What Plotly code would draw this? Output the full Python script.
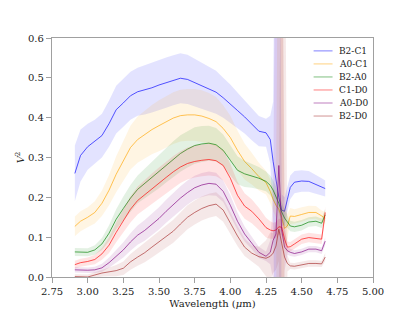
import plotly.graph_objects as go

wavelength = [2.91, 2.95, 3.00, 3.05, 3.10, 3.15, 3.20, 3.25, 3.30, 3.35, 3.40, 3.45, 3.50, 3.55,
              3.60, 3.65, 3.70, 3.75, 3.80, 3.85, 3.90, 3.95, 4.00, 4.05, 4.10, 4.15, 4.20, 4.25,
              4.28, 4.30, 4.32, 4.34, 4.36, 4.38, 4.40, 4.42, 4.45, 4.50, 4.55, 4.60, 4.64, 4.665]

v2_b2c1 = [0.260, 0.305, 0.327, 0.340, 0.355, 0.385, 0.420, 0.437, 0.455, 0.465, 0.470, 0.475, 0.482, 0.488,
           0.494, 0.499, 0.496, 0.488, 0.480, 0.472, 0.464, 0.450, 0.435, 0.418, 0.402, 0.383, 0.366, 0.362,
           0.345, 0.290, 0.240, 0.200, 0.168, 0.165, 0.195, 0.225, 0.238, 0.241, 0.240, 0.233, 0.226, 0.222]
err_b2c1 = [0.070, 0.065, 0.058, 0.055, 0.055, 0.058, 0.060, 0.060, 0.060, 0.060, 0.062, 0.062, 0.062, 0.063,
            0.063, 0.063, 0.062, 0.060, 0.058, 0.056, 0.054, 0.050, 0.048, 0.045, 0.042, 0.040, 0.038, 0.035,
            0.060, 0.150, 1.000, 1.000, 0.040, 0.035, 0.030, 0.030, 0.028, 0.027, 0.026, 0.024, 0.022, 0.020]

v2_a0c1 = [0.127, 0.140, 0.150, 0.162, 0.185, 0.218, 0.258, 0.292, 0.325, 0.345, 0.358, 0.370, 0.380, 0.390,
           0.399, 0.405, 0.407, 0.407, 0.404, 0.398, 0.390, 0.373, 0.350, 0.318, 0.290, 0.272, 0.252, 0.237,
           0.215, 0.195, 0.180, 0.170, 0.150, 0.122, 0.128, 0.153, 0.152, 0.157, 0.162, 0.162, 0.152, 0.148]
err_a0c1 = [0.025, 0.025, 0.025, 0.028, 0.032, 0.038, 0.045, 0.050, 0.055, 0.058, 0.060, 0.062, 0.064, 0.065,
            0.065, 0.065, 0.065, 0.065, 0.065, 0.064, 0.062, 0.058, 0.055, 0.050, 0.045, 0.040, 0.035, 0.030,
            0.030, 0.030, 0.030, 1.000, 1.000, 0.050, 0.030, 0.020, 0.018, 0.018, 0.017, 0.016, 0.015, 0.015]

v2_b2a0 = [0.063, 0.062, 0.062, 0.068, 0.083, 0.110, 0.145, 0.172, 0.198, 0.220, 0.235, 0.250, 0.265, 0.281,
           0.296, 0.310, 0.321, 0.330, 0.334, 0.336, 0.332, 0.318, 0.293, 0.268, 0.259, 0.254, 0.248, 0.240,
           0.230, 0.218, 0.203, 0.185, 0.163, 0.148, 0.138, 0.128, 0.126, 0.130, 0.138, 0.140, 0.135, 0.156]
err_b2a0 = [0.010, 0.010, 0.010, 0.012, 0.015, 0.020, 0.025, 0.030, 0.033, 0.035, 0.037, 0.040, 0.042, 0.044,
            0.045, 0.046, 0.046, 0.046, 0.045, 0.044, 0.042, 0.040, 0.038, 0.035, 0.033, 0.030, 0.028, 0.025,
            0.025, 0.025, 0.025, 0.025, 0.025, 0.020, 0.015, 0.013, 0.013, 0.013, 0.012, 0.012, 0.012, 0.015]

v2_c1d0 = [0.031, 0.036, 0.039, 0.044, 0.058, 0.080, 0.112, 0.142, 0.170, 0.192, 0.207, 0.222, 0.236, 0.250,
           0.264, 0.276, 0.285, 0.290, 0.293, 0.295, 0.292, 0.280, 0.248, 0.205, 0.178, 0.165, 0.146, 0.124,
           0.118, 0.116, 0.118, 0.126, 0.125, 0.095, 0.075, 0.076, 0.083, 0.095, 0.099, 0.097, 0.095, 0.162]
err_c1d0 = [0.010, 0.010, 0.010, 0.012, 0.015, 0.020, 0.025, 0.030, 0.033, 0.035, 0.037, 0.038, 0.039, 0.040,
            0.040, 0.040, 0.040, 0.040, 0.040, 0.040, 0.039, 0.038, 0.036, 0.034, 0.032, 0.030, 0.028, 0.025,
            0.022, 0.020, 0.020, 0.020, 0.020, 0.018, 0.014, 0.012, 0.012, 0.012, 0.012, 0.012, 0.012, 0.015]

v2_a0d0 = [0.018, 0.017, 0.017, 0.018, 0.023, 0.036, 0.053, 0.068, 0.088, 0.105, 0.117, 0.132, 0.147, 0.165,
           0.182, 0.198, 0.212, 0.224, 0.231, 0.235, 0.233, 0.215, 0.180, 0.140, 0.108, 0.086, 0.062, 0.052,
           0.062, 0.092, 0.108, 0.280, 0.118, 0.075, 0.066, 0.062, 0.059, 0.063, 0.070, 0.070, 0.066, 0.090]
err_a0d0 = [0.007, 0.007, 0.007, 0.008, 0.010, 0.013, 0.016, 0.019, 0.022, 0.024, 0.026, 0.027, 0.028, 0.029,
            0.030, 0.030, 0.030, 0.030, 0.030, 0.030, 0.029, 0.027, 0.025, 0.022, 0.019, 0.016, 0.014, 0.012,
            0.030, 0.100, 1.000, 1.000, 1.000, 0.060, 0.010, 0.009, 0.008, 0.008, 0.008, 0.008, 0.008, 0.010]

v2_b2d0 = [0.001, 0.001, 0.000, 0.005, 0.010, 0.013, 0.016, 0.022, 0.038, 0.050, 0.061, 0.075, 0.088, 0.101,
           0.115, 0.133, 0.150, 0.162, 0.172, 0.179, 0.183, 0.168, 0.134, 0.103, 0.075, 0.060, 0.051, 0.047,
           0.052, 0.060, 0.078, 0.120, 0.085, 0.050, 0.034, 0.028, 0.027, 0.031, 0.034, 0.034, 0.033, 0.050]
err_b2d0 = [0.006, 0.006, 0.006, 0.007, 0.009, 0.011, 0.014, 0.017, 0.020, 0.022, 0.024, 0.026, 0.027, 0.028,
            0.029, 0.030, 0.030, 0.030, 0.030, 0.030, 0.030, 0.029, 0.027, 0.025, 0.022, 0.020, 0.025, 0.045,
            0.060, 0.050, 0.060, 0.080, 1.000, 1.000, 0.020, 0.008, 0.008, 0.008, 0.008, 0.008, 0.008, 0.010]

baselines = ["B2-C1", "A0-C1", "B2-A0", "C1-D0", "A0-D0", "B2-D0"]
values = [v2_b2c1, v2_a0c1, v2_b2a0, v2_c1d0, v2_a0d0, v2_b2d0]
errors = [err_b2c1, err_a0c1, err_b2a0, err_c1d0, err_a0d0, err_b2d0]
colors = [(0, 0, 255), (255, 165, 0), (0, 128, 0), (255, 0, 0), (128, 0, 128), (165, 42, 42)]

x_ticks = [2.75, 3.00, 3.25, 3.50, 3.75, 4.00, 4.25, 4.50, 4.75, 5.00]
y_ticks = [0.0, 0.1, 0.2, 0.3, 0.4, 0.5, 0.6]

FONT = "DejaVu Serif"
fig = go.Figure()

for name, v, e, c in zip(baselines, values, errors, colors):
    r, g, b = c
    upper = [a + d for a, d in zip(v, e)]
    lower = [a - d for a, d in zip(v, e)]
    fig.add_trace(go.Scatter(x=wavelength, y=upper, mode="lines", line=dict(width=0),
                             showlegend=False, hoverinfo="skip"))
    fig.add_trace(go.Scatter(x=wavelength, y=lower, mode="lines", line=dict(width=0),
                             fill="tonexty", fillcolor=f"rgba({r},{g},{b},0.11)",
                             showlegend=False, hoverinfo="skip"))
    fig.add_trace(go.Scatter(x=wavelength, y=v, mode="lines", name=name, showlegend=False,
                             line=dict(color=f"rgba({r},{g},{b},0.65)", width=1)))

# legend drawn as keys + labels in paper space (matplotlib-style compact legend)
leg_x0, leg_x1, leg_tx = 0.815, 0.874, 0.888
leg_top, leg_step = 0.946, 0.0545
for i, (name, c) in enumerate(zip(baselines, colors)):
    r, g, b = c
    yy = leg_top - i * leg_step
    fig.add_shape(type="line", xref="paper", yref="paper", x0=leg_x0, x1=leg_x1, y0=yy, y1=yy,
                  line=dict(color=f"rgba({r},{g},{b},0.5)", width=1))
    fig.add_annotation(xref="paper", yref="paper", x=leg_tx, y=yy, text=name, showarrow=False,
                       xanchor="left", yanchor="middle",
                       font=dict(family=FONT, size=9, color="#222"))

axis_common = dict(showline=True, mirror=True, linecolor="#a0a0a0", linewidth=1.3,
                   ticks="outside", ticklen=5, tickwidth=1, tickcolor="#a0a0a0",
                   showgrid=False, zeroline=False, automargin=False,
                   tickfont=dict(family=FONT, size=10, color="#222"))

fig.update_layout(
    width=415, height=312,
    margin=dict(l=52, r=42, t=38, b=35, autoexpand=False),
    plot_bgcolor="white", paper_bgcolor="white",
    font=dict(family=FONT, size=10, color="#222"),
    showlegend=False,
    xaxis=dict(range=[2.75, 5.0], tickvals=x_ticks, ticktext=[f"{t:.2f}" for t in x_ticks],
               title=dict(text="Wavelength (<i>μ</i>m)", font=dict(family=FONT, size=10), standoff=3),
               **axis_common),
    yaxis=dict(range=[0, 0.6], tickvals=y_ticks, ticktext=[f"{t:.1f}" for t in y_ticks],
               title=dict(text="<i>V</i><sup>2</sup>", font=dict(family=FONT, size=10), standoff=1),
               **axis_common),
)

fig.write_html("out.html", config={"displayModeBar": False},
               post_script="document.body.style.margin='0';")
